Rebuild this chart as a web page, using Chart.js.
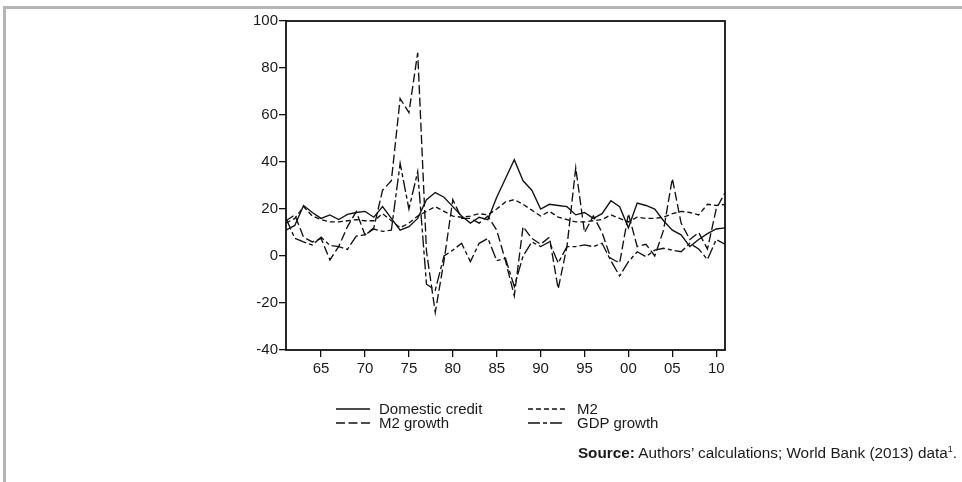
<!DOCTYPE html>
<html>
<head>
<meta charset="utf-8">
<script src="https://cdn.jsdelivr.net/npm/chart.js@4.4.1/dist/chart.umd.min.js"></script>
<style>
    html, body { margin: 0; padding: 0; background: #fff; }
    body { width: 962px; height: 482px; position: relative; overflow: hidden;
           font-family: "Liberation Sans", Arial, sans-serif; color: #1a1a1a; }
    #frame { position: absolute; left: 3px; top: 6px; width: 2000px; height: 2000px;
             border-top: 3px solid #b5b5b5; border-left: 3px solid #b5b5b5; }
    #wrap { position: absolute; left: 0; top: 0; width: 962px; height: 482px; }
    .key { position: absolute; font-size: 15px; line-height: 16px; white-space: nowrap; }
    .key svg { position: absolute; left: 0; top: 0; }
    .key span { position: absolute; top: 0; }
    #source { position: absolute; right: 5px; top: 444px; font-size: 15.3px; white-space: nowrap; }
    #source sup { font-size: 9px; }
</style>
</head>
<body>
<div id="frame"></div>
<div id="wrap"><canvas id="chart" width="962" height="482"></canvas></div>

<div class="key" style="left:336px; top:401px;">
    <svg width="40" height="16"><line x1="0" y1="8" x2="34" y2="8" stroke="#111" stroke-width="1.3"/></svg>
    <span style="left:43px">Domestic credit</span>
</div>
<div class="key" style="left:528px; top:401px;">
    <svg width="40" height="16"><line x1="0" y1="8" x2="37" y2="8" stroke="#111" stroke-width="1.3" stroke-dasharray="5,3"/></svg>
    <span style="left:49px">M2</span>
</div>
<div class="key" style="left:336px; top:415px;">
    <svg width="40" height="16"><line x1="0" y1="8" x2="34" y2="8" stroke="#111" stroke-width="1.3" stroke-dasharray="9,3.5"/></svg>
    <span style="left:43px">M2 growth</span>
</div>
<div class="key" style="left:528px; top:415px;">
    <svg width="40" height="16"><line x1="0" y1="8" x2="37" y2="8" stroke="#111" stroke-width="1.3" stroke-dasharray="12,3,4,3"/></svg>
    <span style="left:49px">GDP growth</span>
</div>

<div id="source"><b>Source:</b> Authors’ calculations; World Bank (2013) data<sup>1</sup>.</div>

<script>
const YEARS = [1961, 1962, 1963, 1964, 1965, 1966, 1967, 1968, 1969, 1970,
               1971, 1972, 1973, 1974, 1975, 1976, 1977, 1978, 1979, 1980,
               1981, 1982, 1983, 1984, 1985, 1986, 1987, 1988, 1989, 1990,
               1991, 1992, 1993, 1994, 1995, 1996, 1997, 1998, 1999, 2000,
               2001, 2002, 2003, 2004, 2005, 2006, 2007, 2008, 2009, 2010, 2011];

const DOMESTIC_CREDIT = [11, 13, 21.5, 18.5, 16, 17.5, 15.5, 17.7, 18.5, 19,
                         16.5, 21, 16, 11, 12.5, 16, 24, 27, 25, 21,
                         17, 14, 16.5, 15.5, 25, 33, 41, 32, 28, 20,
                         22, 21.5, 21, 17.5, 18.5, 16, 18, 23.5, 21, 12,
                         22.5, 21.5, 20, 15, 11, 9, 4, 7, 9.5, 11.5, 12];

const M2 = [14, 16, 21, 17, 15.5, 14.5, 14.5, 15, 15.5, 15,
            15, 18, 15, 12, 14, 17, 19, 21, 19, 17,
            16.5, 17, 18, 17.5, 20, 23, 24, 22, 19.5, 17,
            19, 16.5, 15.5, 14.5, 14.5, 15, 15.5, 17.5, 16, 14.5,
            16.5, 16, 16, 16.5, 18, 19, 18.5, 17.5, 22, 21.5, 22];

const M2_GROWTH = [15, 17.5, 8, 6, 7.5, -1.7, 4, 12.5, 18.9, 9,
                   12, 28, 32, 67, 61, 86.5, 2, -24, -2, 24,
                   16, 16, 14, 17, 11, -2, -17, 12.5, 7.5, 5,
                   8, -14, 4, 37.5, 10, 17, 10, -1, -3, 18,
                   4, 5, 0, 11, 33, 14, 7, 10, 3, 20, 27];

const GDP_GROWTH = [16, 7.5, 6, 4.7, 8, 4.5, 4, 2.8, 8.5, 9,
                    11.5, 10.5, 11, 39.4, 20, 35.9, -12, -14.5, 0, 2.5,
                    5.4, -2.4, 5.4, 7.5, -2, -1, -13, 0, 6, 4,
                    6, -3, 4, 4, 4.7, 4, 5.4, -2, -8.5, -2.4,
                    1.8, -0.3, 2.5, 3.3, 2.5, 1.8, 5.4, 3, -1.5, 7, 5];

const X_TICKS = [1965, 1970, 1975, 1980, 1985, 1990, 1995, 2000, 2005, 2010];
const Y_MIN = -40, Y_MAX = 100, Y_STEP = 20;

const SERIES = [
    { label: 'Domestic credit', values: DOMESTIC_CREDIT, dash: [] },
    { label: 'M2', values: M2, dash: [5, 3] },
    { label: 'M2 growth', values: M2_GROWTH, dash: [9, 3.5] },
    { label: 'GDP growth', values: GDP_GROWTH, dash: [12, 3, 4, 3] }
];

// box round the plot area
const boxPlugin = {
    id: 'box',
    afterDatasetsDraw(chart) {
        const a = chart.chartArea, c = chart.ctx;
        c.save();
        c.strokeStyle = '#111';
        c.lineWidth = 1.8;
        c.strokeRect(a.left, a.top, a.right - a.left, a.bottom - a.top);
        c.restore();
    }
};

Chart.defaults.font.family = '"Liberation Sans", Arial, sans-serif';
Chart.defaults.font.size = 15;
Chart.defaults.color = '#1a1a1a';

new Chart(document.getElementById('chart').getContext('2d'), {
    type: 'line',
    data: {
        datasets: SERIES.map(s => ({
            label: s.label,
            data: YEARS.map((yr, i) => ({ x: yr, y: s.values[i] })),
            borderColor: '#111',
            borderWidth: 1.35,
            borderDash: s.dash,
            pointRadius: 0,
            tension: 0,
            fill: false
        }))
    },
    options: {
        responsive: false,
        animation: false,
        layout: { padding: { left: 220, right: 237, top: 21, bottom: 102 } },
        plugins: {
            legend: { display: false },
            tooltip: { enabled: false }
        },
        scales: {
            x: {
                type: 'linear',
                min: 1961,
                max: 2011,
                afterBuildTicks: s => { s.ticks = X_TICKS.map(v => ({ value: v })); },
                afterFit: s => { s.height = 30; },
                border: { display: false },
                grid: { drawOnChartArea: false, drawTicks: true, tickLength: 7, color: '#111', lineWidth: 1.3 },
                ticks: {
                    autoSkip: false,
                    maxRotation: 0,
                    padding: 3,
                    callback: v => String(v % 100).padStart(2, '0')
                }
            },
            y: {
                min: Y_MIN,
                max: Y_MAX,
                afterFit: s => { s.width = 66; },
                border: { display: false },
                grid: { drawOnChartArea: false, drawTicks: true, tickLength: 7, color: '#111', lineWidth: 1.3 },
                ticks: { stepSize: Y_STEP, padding: 1 }
            }
        }
    },
    plugins: [boxPlugin]
});
</script>
</body>
</html>
